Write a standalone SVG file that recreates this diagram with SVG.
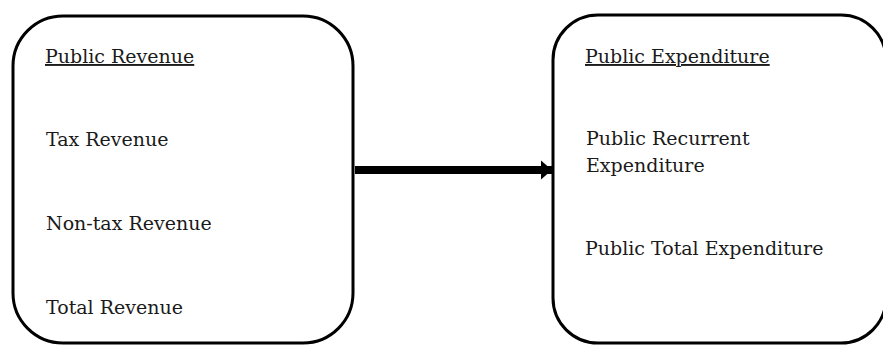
<svg xmlns="http://www.w3.org/2000/svg" width="883" height="345" viewBox="0 0 883 345">
<style>
.box{fill:#fff;stroke:#000;stroke-width:3}
.t{font-family:"DejaVu Serif","Liberation Serif",serif;font-size:19px;fill:#1a1a1a}
.u{text-decoration:underline}
.conn{stroke:#000;stroke-width:8;fill:none}
</style>
<defs>
<marker id="ah" viewBox="0 0 10 10" refX="10" refY="5" markerWidth="1.4" markerHeight="2.4" orient="auto" markerUnits="strokeWidth" preserveAspectRatio="none">
<path d="M0,0 L10,5 L0,10 z" fill="#000"/>
</marker>
</defs>
<rect width="883" height="345" fill="#fff"/>
<g id="public-revenue">
<rect class="box" x="13" y="16" width="340" height="327" rx="50" ry="50"/>
<text class="t u" x="45" y="63">Public Revenue</text>
<text class="t" x="46" y="146">Tax Revenue</text>
<text class="t" x="46" y="230">Non-tax Revenue</text>
<text class="t" x="46" y="314">Total Revenue</text>
</g>
<g id="public-expenditure">
<rect class="box" x="553" y="15" width="333" height="328" rx="45" ry="45"/>
<text class="t u" x="585" y="63">Public Expenditure</text>
<text class="t" x="586" y="145">Public Recurrent</text>
<text class="t" x="586" y="172">Expenditure</text>
<text class="t" x="585" y="255">Public Total Expenditure</text>
</g>
<g id="connectors">
<line class="conn" x1="355" y1="170" x2="552" y2="170" marker-end="url(#ah)"/>
</g>
</svg>
